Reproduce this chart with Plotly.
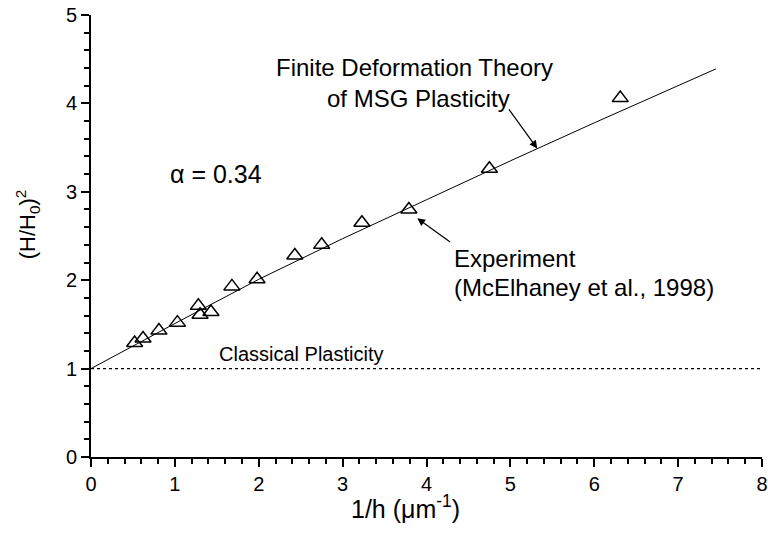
import plotly.graph_objects as go

# Experimental data (McElhaney et al., 1998)
exp_x = [0.52, 0.62, 0.81, 1.03, 1.28, 1.30, 1.43, 1.68, 1.98, 2.43, 2.75, 3.23, 3.79, 4.75, 6.31]
exp_y = [1.29, 1.34, 1.43, 1.52, 1.71, 1.61, 1.64, 1.93, 2.01, 2.28, 2.40, 2.65, 2.80, 3.26, 4.06]

# Finite deformation theory of MSG plasticity
theory_x = [0.0, 1.0, 2.0, 3.0, 4.0, 5.0, 6.0, 7.0, 7.45]
theory_y = [1.0, 1.51, 2.01, 2.47, 2.91, 3.35, 3.78, 4.20, 4.39]

# Classical plasticity
classical_x = [0.0, 8.0]
classical_y = [1.0, 1.0]

FONT = "Liberation Sans, Arial, sans-serif"

fig = go.Figure()
fig.add_trace(go.Scatter(x=theory_x, y=theory_y, mode="lines",
                         line=dict(color="black", width=1), showlegend=False))
fig.add_trace(go.Scatter(x=classical_x, y=classical_y, mode="lines",
                         line=dict(color="black", width=1.3, dash="dot"), showlegend=False))
fig.add_trace(go.Scatter(x=exp_x, y=exp_y, mode="markers",
                         marker=dict(symbol="triangle-up-open", size=14, color="black",
                                     line=dict(width=1.5, color="black")),
                         showlegend=False))

ann_font = dict(family=FONT, size=24, color="black")
annotations = [
    dict(x=3.86, y=4.41, text="Finite Deformation Theory", showarrow=False, xanchor="center", yanchor="middle", font=ann_font),
    dict(x=3.90, y=4.06, text="of MSG Plasticity", showarrow=False, xanchor="center", yanchor="middle", font=ann_font),
    dict(x=5.32, y=3.49, ax=4.97, ay=3.95, axref="x", ayref="y", text="", showarrow=True,
         arrowhead=2, arrowsize=1.3, arrowwidth=1.2, arrowcolor="black"),
    dict(x=4.30, y=2.25, text="Experiment", showarrow=False, xanchor="left", yanchor="middle", font=ann_font),
    dict(x=4.30, y=1.92, text="(McElhaney et al., 1998)", showarrow=False, xanchor="left", yanchor="middle", font=ann_font),
    dict(x=3.89, y=2.70, ax=4.30, ay=2.42, axref="x", ayref="y", text="", showarrow=True,
         arrowhead=2, arrowsize=1.3, arrowwidth=1.2, arrowcolor="black"),
    dict(x=0.92, y=3.20, text="α = 0.34", showarrow=False, xanchor="left", yanchor="middle",
         font=dict(family=FONT, size=25, color="black")),
    dict(x=1.50, y=1.16, text="Classical Plasticity", showarrow=False, xanchor="left", yanchor="middle",
         font=dict(family=FONT, size=20, color="black")),
    # axis titles
    dict(x=0.469, y=-0.113, xref="paper", yref="paper", text="1/h (μm<sup>-1</sup>)", showarrow=False,
         xanchor="center", yanchor="middle", font=dict(family=FONT, size=25, color="black")),
    dict(x=-0.095, y=0.527, xref="paper", yref="paper", text="(H/H<sub>0</sub>)<sup>2</sup>", showarrow=False,
         textangle=-90, xanchor="center", yanchor="middle", font=dict(family=FONT, size=22, color="black")),
]

axis_common = dict(showgrid=False, zeroline=False, showline=True, linecolor="black", linewidth=2,
                   ticks="outside", ticklen=8, tickwidth=2, tickcolor="black",
                   ticklabeloverflow="allow",
                   tickfont=dict(family=FONT, size=20, color="black"))

fig.update_layout(
    width=768, height=534,
    margin=dict(l=91, r=6, t=15, b=77, autoexpand=False),
    paper_bgcolor="white", plot_bgcolor="white",
    annotations=annotations,
    xaxis=dict(range=[0, 8], dtick=1, tick0=0, automargin=False,
               minor=dict(ticks="outside", ticklen=5, tickwidth=1.5, dtick=0.2, tickcolor="black"),
               **axis_common),
    yaxis=dict(range=[0, 5], dtick=1, tick0=0, automargin=False,
               minor=dict(ticks="outside", ticklen=5, tickwidth=1.5, dtick=0.2, tickcolor="black"),
               **axis_common),
)

# remove the default 8px page margin so the figure fills the window exactly
fig.write_html("out.html", config={"displayModeBar": False},
               post_script="document.body.style.margin='0';document.body.style.overflow='hidden';")
